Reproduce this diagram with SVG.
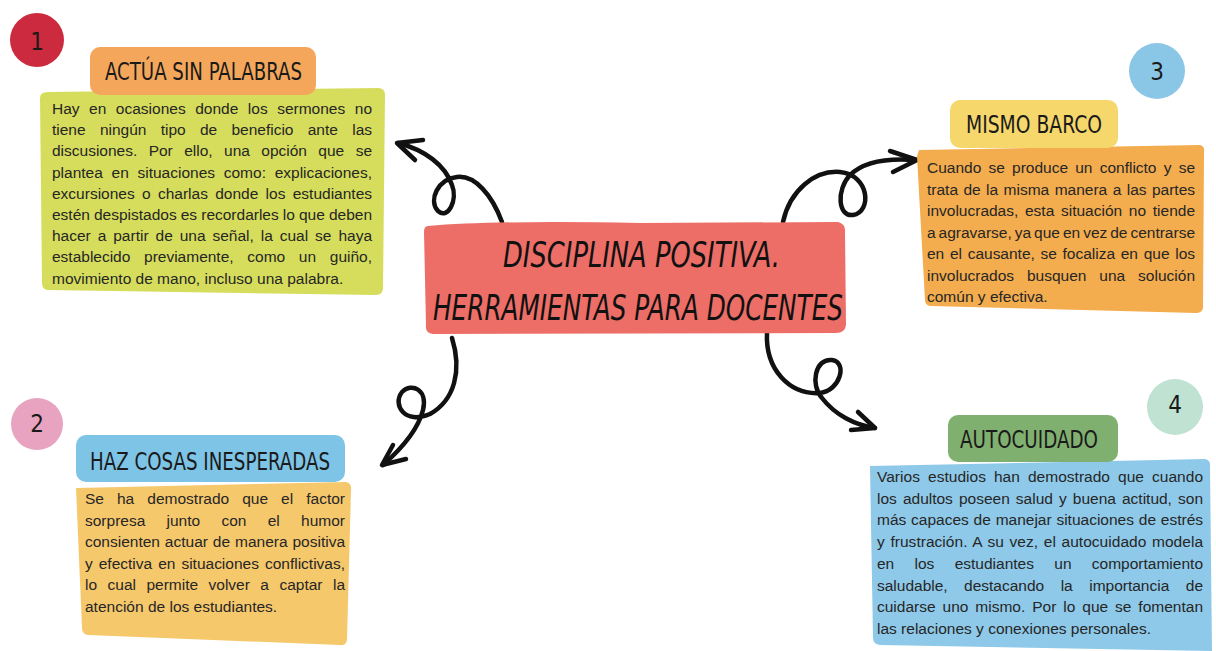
<svg xmlns="http://www.w3.org/2000/svg" width="1216" height="651" viewBox="0 0 1216 651">
<style>
.body{font-family:"Liberation Sans",Arial,sans-serif;font-size:15.5px;fill:#262626}
.head{font-family:"DejaVu Sans Condensed","DejaVu Sans",sans-serif;font-size:25px;fill:#1a1a1a}
.num{font-family:"DejaVu Sans Condensed","DejaVu Sans",sans-serif;font-size:24px;fill:#1a1a1a;text-anchor:middle}
.center{font-family:"DejaVu Sans Condensed","DejaVu Sans",sans-serif;font-size:36px;font-style:italic;fill:#111}
.arrow{fill:none;stroke:#111;stroke-width:4.5;stroke-linecap:round;stroke-linejoin:round}
</style>
<rect width="1216" height="651" fill="#ffffff"/>
<g id="connectors">
<path class="arrow" d="M 502 222 C 492 195, 475 175, 457 177 C 438 179, 428 200, 438 211 C 448 220, 458 200, 452 185 C 445 165, 425 150, 398 143"/>
<path class="arrow" d="M 423 140 L 397 143 L 415 160"/>
<path class="arrow" d="M 783 222 C 790 190, 815 170, 840 172 C 870 175, 872 212, 853 215 C 838 217, 836 190, 850 175 C 865 160, 890 158, 916 160"/>
<path class="arrow" d="M 890 151 L 917 160 L 893 172"/>
<path class="arrow" d="M 452 338 C 462 370, 455 400, 430 414 C 405 425, 392 405, 402 392 C 412 382, 428 390, 423 410 C 418 430, 400 450, 383 465"/>
<path class="arrow" d="M 393 445 L 382 465 L 406 459"/>
<path class="arrow" d="M 767 332 C 765 370, 790 395, 820 393 C 840 391, 848 362, 832 360 C 815 358, 810 385, 822 398 C 835 415, 855 425, 875 428"/>
<path class="arrow" d="M 858 412 L 875 428 L 851 430"/>
</g>
<g id="center">
<path d="M 428 226 Q 500 220 640 223 L 838 222 Q 846 224 845 232 L 846 325 Q 845 333 836 333 L 433 334 Q 425 333 426 325 L 424 232 Q 424 226 428 226 Z" fill="#ec6e66"/>
<text class="center" x="503" y="267" textLength="277" lengthAdjust="spacingAndGlyphs">DISCIPLINA POSITIVA.</text>
<text class="center" x="433" y="320" textLength="410" lengthAdjust="spacingAndGlyphs">HERRAMIENTAS PARA DOCENTES</text>
</g>
<g id="node1">
<circle cx="37" cy="40" r="27" fill="#cc2a3e"/>
<text class="num" x="37" y="50">1</text>
<path d="M 40 98 Q 40 92 48 92 L 378 88 Q 385 88 385 95 L 383 288 Q 383 295 376 295 L 48 290 Q 42 290 42 283 Z" fill="#d6dd5c"/>
<rect x="90" y="47" width="226" height="48" rx="10" fill="#f4a75a"/>
<text class="head" x="105" y="80" textLength="197" lengthAdjust="spacingAndGlyphs">ACTÚA SIN PALABRAS</text>
<text class="body" x="52" y="114" word-spacing="5.2" textLength="320" lengthAdjust="spacing">Hay en ocasiones donde los sermones no</text>
<text class="body" x="52" y="135.2" word-spacing="10" textLength="320" lengthAdjust="spacing">tiene ningún tipo de beneficio ante las</text>
<text class="body" x="52" y="156.4" word-spacing="7.1" textLength="320" lengthAdjust="spacing">discusiones. Por ello, una opción que se</text>
<text class="body" x="52" y="177.6" word-spacing="4.4" textLength="320" lengthAdjust="spacing">plantea en situaciones como: explicaciones,</text>
<text class="body" x="52" y="198.8" word-spacing="3" textLength="320" lengthAdjust="spacing">excursiones o charlas donde los estudiantes</text>
<text class="body" x="52" y="220" word-spacing="-0.2" textLength="320" lengthAdjust="spacing">estén despistados es recordarles lo que deben</text>
<text class="body" x="52" y="241.2" word-spacing="2.6" textLength="320" lengthAdjust="spacing">hacer a partir de una señal, la cual se haya</text>
<text class="body" x="52" y="262.4" word-spacing="9.4" textLength="320" lengthAdjust="spacing">establecido previamente, como un guiño,</text>
<text class="body" x="52" y="283.6">movimiento de mano, incluso una palabra.</text>
</g>
<g id="node2">
<circle cx="37" cy="424" r="26" fill="#e8a3c0"/>
<text class="num" x="37" y="432">2</text>
<path d="M 76 488 L 346 482 Q 352 483 351 490 L 347 640 Q 346 646 340 645 L 88 635 Q 82 634 82 628 Z" fill="#f6c86c"/>
<rect x="76" y="435" width="269" height="47" rx="10" fill="#7ec4e6"/>
<text class="head" x="90" y="470" textLength="240" lengthAdjust="spacingAndGlyphs">HAZ COSAS INESPERADAS</text>
<text class="body" x="85" y="504" word-spacing="8.7" textLength="260" lengthAdjust="spacing">Se ha demostrado que el factor</text>
<text class="body" x="85" y="525.5" word-spacing="17" textLength="260" lengthAdjust="spacing">sorpresa junto con el humor</text>
<text class="body" x="85" y="547" word-spacing="0.6" textLength="260" lengthAdjust="spacing">consienten actuar de manera positiva</text>
<text class="body" x="85" y="568.5" word-spacing="1.7" textLength="260" lengthAdjust="spacing">y efectiva en situaciones conflictivas,</text>
<text class="body" x="85" y="590" word-spacing="6.1" textLength="260" lengthAdjust="spacing">lo cual permite volver a captar la</text>
<text class="body" x="85" y="611.5">atención de los estudiantes.</text>
</g>
<g id="node3">
<circle cx="1157" cy="71" r="28" fill="#8ac6e6"/>
<text class="num" x="1157" y="80">3</text>
<path d="M 919 150 L 1200 145 Q 1205 146 1204 152 L 1203 308 Q 1202 313 1196 313 L 930 306 Q 925 305 925 300 L 917 156 Z" fill="#f3ac4e"/>
<rect x="950" y="100" width="168" height="48" rx="10" fill="#f6d76c"/>
<text class="head" x="966" y="133" textLength="136" lengthAdjust="spacingAndGlyphs">MISMO BARCO</text>
<text class="body" x="927" y="173" word-spacing="2.9" textLength="268" lengthAdjust="spacing">Cuando se produce un conflicto y se</text>
<text class="body" x="927" y="194.5" word-spacing="1.1" textLength="268" lengthAdjust="spacing">trata de la misma manera a las partes</text>
<text class="body" x="927" y="216" word-spacing="2.4" textLength="268" lengthAdjust="spacing">involucradas, esta situación no tiende</text>
<text class="body" x="927" y="237.5" word-spacing="-1.3" textLength="268" lengthAdjust="spacing">a agravarse, ya que en vez de centrarse</text>
<text class="body" x="927" y="259" word-spacing="1.4" textLength="268" lengthAdjust="spacing">en el causante, se focaliza en que los</text>
<text class="body" x="927" y="280.5" word-spacing="8.6" textLength="268" lengthAdjust="spacing">involucrados busquen una solución</text>
<text class="body" x="927" y="302">común y efectiva.</text>
</g>
<g id="node4">
<circle cx="1175" cy="407" r="28" fill="#bfe2d2"/>
<text class="num" x="1175" y="413">4</text>
<path d="M 870 466 L 1205 459 Q 1211 460 1210 467 L 1212 651 L 880 645 Q 873 644 873 638 Z" fill="#8ec9e9"/>
<rect x="948" y="415" width="170" height="47" rx="10" fill="#80b06f"/>
<text class="head" x="960" y="448" textLength="138" lengthAdjust="spacingAndGlyphs">AUTOCUIDADO</text>
<text class="body" x="877" y="482" word-spacing="3.7" textLength="326" lengthAdjust="spacing">Varios estudios han demostrado que cuando</text>
<text class="body" x="877" y="503.7" word-spacing="1.8" textLength="326" lengthAdjust="spacing">los adultos poseen salud y buena actitud, son</text>
<text class="body" x="877" y="525.4" word-spacing="0.5" textLength="326" lengthAdjust="spacing">más capaces de manejar situaciones de estrés</text>
<text class="body" x="877" y="547.1" word-spacing="1.3" textLength="326" lengthAdjust="spacing">y frustración. A su vez, el autocuidado modela</text>
<text class="body" x="877" y="568.8" word-spacing="16" textLength="326" lengthAdjust="spacing">en los estudiantes un comportamiento</text>
<text class="body" x="877" y="590.5" word-spacing="12.2" textLength="326" lengthAdjust="spacing">saludable, destacando la importancia de</text>
<text class="body" x="877" y="612.2" word-spacing="2.6" textLength="326" lengthAdjust="spacing">cuidarse uno mismo. Por lo que se fomentan</text>
<text class="body" x="877" y="633.9">las relaciones y conexiones personales.</text>
</g>
</svg>
